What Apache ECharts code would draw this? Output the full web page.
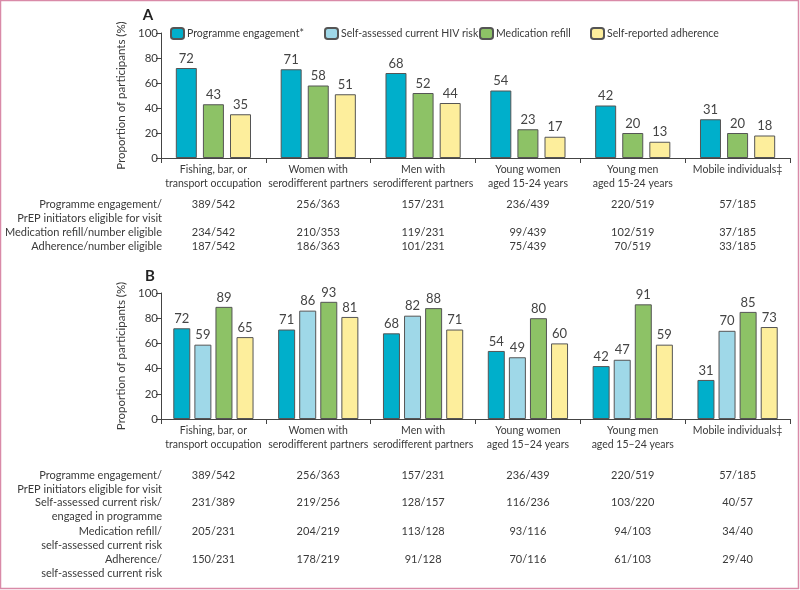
<!DOCTYPE html>
<html><head><meta charset="utf-8">
<script src="https://cdn.jsdelivr.net/npm/echarts@6/dist/echarts.min.js"></script>
<style>html,body{margin:0;padding:0;background:#fff}#c{width:800px;height:590px}</style>
</head><body><div id="c"></div>
<script>
// ---- data ----
const categoriesA = ['Fishing, bar, or\ntransport occupation','Women with\nserodifferent partners','Men with\nserodifferent partners','Young women\naged 15-24 years','Young men\naged 15-24 years','Mobile individuals\u2021'];
const categoriesB = ['Fishing, bar, or\ntransport occupation','Women with\nserodifferent partners','Men with\nserodifferent partners','Young women\naged 15\u201324 years','Young men\naged 15\u201324 years','Mobile individuals\u2021'];
const seriesNames = ['Programme engagement*','Self-assessed current HIV risk\u2020','Medication refill','Self-reported adherence'];
const engagementA = [72,71,68,54,42,31];
const refillA = [43,58,52,23,20,20];
const adherenceA = [35,51,44,17,13,18];
const engagementB = [72,71,68,54,42,31];
const selfRiskB = [59,86,82,49,47,70];
const refillB = [89,93,88,80,91,85];
const adherenceB = [65,81,71,60,59,73];
const tableALabels = [['Programme engagement/','PrEP initiators eligible for visit'],['Medication refill/number eligible'],['Adherence/number eligible']];
const tableAEngagement = ['389/542','256/363','157/231','236/439','220/519','57/185'];
const tableARefill = ['234/542','210/353','119/231','99/439','102/519','37/185'];
const tableAAdherence = ['187/542','186/363','101/231','75/439','70/519','33/185'];
const tableBLabels = [['Programme engagement/','PrEP initiators eligible for visit'],['Self-assessed current risk/','engaged in programme'],['Medication refill/','self-assessed current risk'],['Adherence/','self-assessed current risk']];
const tableBEngagement = ['389/542','256/363','157/231','236/439','220/519','57/185'];
const tableBSelfRisk = ['231/389','219/256','128/157','116/236','103/220','40/57'];
const tableBRefill = ['205/231','204/219','113/128','93/116','94/103','34/40'];
const tableBAdherence = ['150/231','178/219','91/128','70/116','61/103','29/40'];

// ---- style ----
const FONT = 'Lato';
const TXT = '#3a3a3a';
const FS = 11;
const FSC = 10.5;
const colors = ['#00afcb','#9fd8e8','#8dc266','#fdee9c'];
const edge = '#555';

const chart = echarts.init(document.getElementById('c'), null, {renderer:'canvas'});

function yAxis(gi){
  return {gridIndex:gi, type:'value', min:0, max:100, interval:20,
    name:'Proportion of participants (%)', nameLocation:'middle', nameGap:30, nameRotate:90,
    nameTextStyle:{fontFamily:FONT, fontSize:11.5, color:TXT},
    axisLine:{show:true, lineStyle:{color:'#444', width:1}},
    axisTick:{show:true, length:5, lineStyle:{color:'#444'}},
    axisLabel:{fontFamily:FONT, fontSize:11.5, color:TXT, margin:3},
    splitLine:{show:false}};
}
function xAxis(gi, cats){
  return {gridIndex:gi, type:'category', data:cats,
    axisLine:{show:true, lineStyle:{color:'#444', width:1}},
    axisTick:{show:true, length:5, interval:0, lineStyle:{color:'#444'}},
    axisLabel:{fontFamily:FONT, fontSize:FSC, color:TXT, lineHeight:14, margin:5, interval:0}};
}
function bar(name, data, ci, gi, w, gap){
  return {name:name, type:'bar', xAxisIndex:gi, yAxisIndex:gi, data:data, barWidth:w, barGap:gap,
    itemStyle:{color:colors[ci], borderColor:edge, borderWidth:1},
    label:{show:true, position:'top', distance:3, fontFamily:FONT, fontSize:13, color:'#444'}};
}
function legendItem(i, left){
  return {data:[seriesNames[i]], left:left, top:22, itemWidth:13, itemHeight:11, itemGap:0,
    textStyle:{fontFamily:FONT, fontSize:FSC, color:TXT, padding:[0,0,0,-2]}, selectedMode:false};
}

chart.setOption({
  animation:false,
  backgroundColor:'#fff',
  grid:[{left:161, top:33, width:629, height:125},{left:161, top:293, width:629, height:126}],
  xAxis:[xAxis(0, categoriesA), xAxis(1, categoriesB)],
  yAxis:[yAxis(0), yAxis(1)],
  legend:[legendItem(0,165), legendItem(1,319), legendItem(2,474), legendItem(3,585)],
  series:[
    bar(seriesNames[0], engagementA, 0, 0, 21, '29%'),
    bar(seriesNames[2], refillA, 2, 0, 21, '29%'),
    bar(seriesNames[3], adherenceA, 3, 0, 21, '29%'),
    bar(seriesNames[0], engagementB, 0, 1, 17, '24%'),
    bar(seriesNames[1], selfRiskB, 1, 1, 17, '24%'),
    bar(seriesNames[2], refillB, 2, 1, 17, '24%'),
    bar(seriesNames[3], adherenceB, 3, 1, 17, '24%')
  ]
});

// ---- tables & annotations ----
const g = [];
const txt = (x,y,s,align,extra) => ({type:'text', x:x, y:y, style:Object.assign({text:s, fontFamily:FONT, fontSize:FS, fill:TXT, textAlign:align, textVerticalAlign:'middle'}, extra||{})});
g.push({type:'rect', shape:{x:0.5,y:0.5,width:798,height:588}, style:{fill:'none', stroke:'#d98aa8', lineWidth:1.5}, silent:true});
g.push(txt(148,15,'A','center',{fontSize:15, fontWeight:'bold', fill:'#222'}));
g.push(txt(150,276,'B','center',{fontSize:15, fontWeight:'bold', fill:'#222'}));

const xs = categoriesA.map(c => chart.convertToPixel({xAxisIndex:0}, c));
const labelX = 162;
function table(labels, rows, ys){
  labels.forEach((lines, r) => {
    lines.forEach((l, k) => g.push(txt(labelX, ys[r] + k*14, l, 'right')));
    rows[r].forEach((v, i) => g.push(txt(xs[i], ys[r], v, 'center')));
  });
}
table(tableALabels, [tableAEngagement, tableARefill, tableAAdherence], [204,232,246]);
table(tableBLabels, [tableBEngagement, tableBSelfRisk, tableBRefill, tableBAdherence], [475,502,531,559]);
chart.setOption({graphic:g});
</script></body></html>
